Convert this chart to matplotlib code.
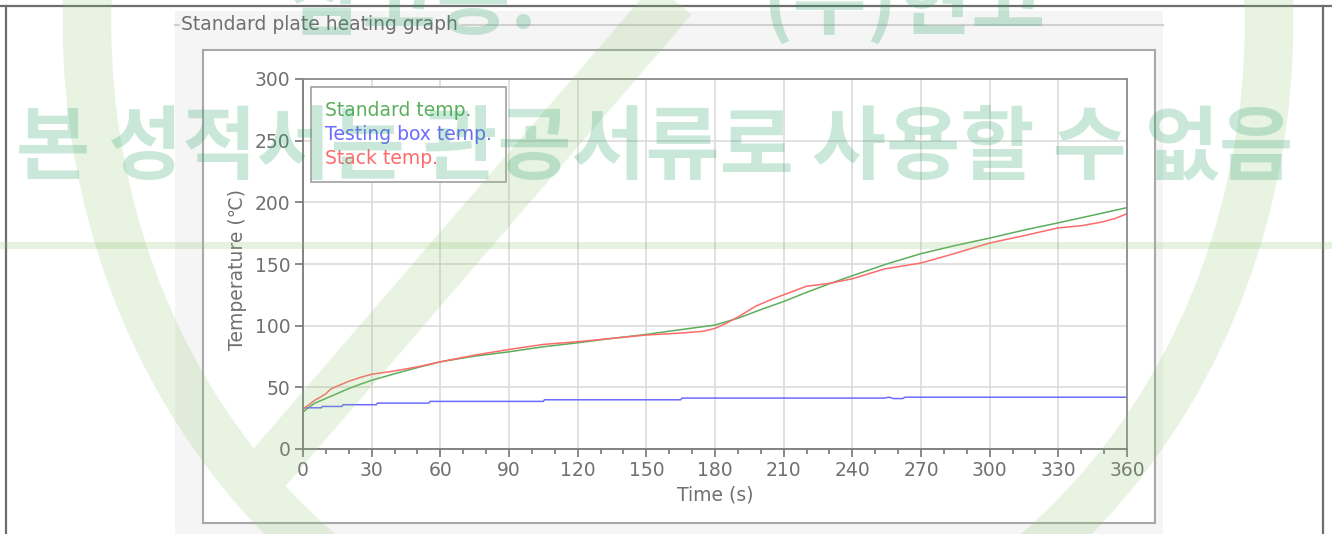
import matplotlib
matplotlib.use('Agg')
import matplotlib.pyplot as plt
from matplotlib.patches import Rectangle, PathPatch
from matplotlib.path import Path
from matplotlib.transforms import Affine2D

# --- data ---
t_std = [0, 2, 5, 10, 15, 20, 25, 30, 40, 50, 60, 75, 90, 105, 120, 135, 150, 160, 170, 180,
         190, 200, 210, 220, 230, 240, 255, 270, 285, 300, 315, 330, 345, 360]
std_temp = [30, 33, 37, 41, 45, 49, 52.5, 55.7, 61, 66, 70.7, 75.3, 78.8, 82.9, 86.1, 89.7, 92.9, 95.5, 98, 100.5,
            106, 113, 119.6, 127, 134, 140.5, 150, 158.4, 165, 171, 177.5, 183.4, 189.5, 195.7]

t_box = [0, 8, 8.5, 17, 17.5, 32, 32.5, 55, 55.5, 105, 105.5, 165, 165.5, 254, 256, 258, 262, 263, 360]
box_temp = [33.4, 33.4, 34.5, 34.5, 35.9, 35.9, 37.2, 37.2, 38.6, 38.6, 39.9, 39.9, 41.3, 41.3, 42, 40.9, 40.9, 42, 42]

t_stack = [0, 2, 5, 8, 10, 12, 15, 20, 25, 30, 40, 50, 60, 75, 90, 105, 120, 135, 150, 165, 175, 180,
           185, 190, 198, 205, 210, 220, 229, 240, 254, 270, 283, 300, 315, 330, 340, 349, 355, 360]
stack_temp = [32.6, 35, 39.4, 42.5, 44.8, 48.5, 51, 54.9, 58, 60.6, 63.3, 66.6, 70.7, 76.1, 80.7, 84.8, 87, 89.7, 92.4, 94, 95.5, 97.8,
              102, 107, 116, 121.5, 125, 132, 134, 138, 146, 150.8, 157.6, 167, 173, 179.3, 181, 184, 187, 190.8]

labels = ['Standard temp.', 'Testing box temp.', 'Stack temp.']
colors = ['#5cae5c', '#6b6bff', '#ff6b6b']

W, H = 1332, 534
fs = 13.5
fig = plt.figure(figsize=(W / 100, H / 100), dpi=100)

# background: page frame, grey group box, white plot panel
bg = fig.add_axes([0, 0, 1, 1], zorder=0)
bg.set_xlim(0, W)
bg.set_ylim(H, 0)
bg.axis('off')
bg.plot([0, W], [6, 6], color='#6e6e6e', lw=1.6)
bg.plot([6, 6], [6, H], color='#6e6e6e', lw=1.6)
bg.plot([1323, 1323], [6, H], color='#6e6e6e', lw=1.6)
bg.add_patch(Rectangle((175, 11), 988, 530, facecolor='#f5f5f5', edgecolor='none'))
bg.plot([175, 179], [25, 25], color='#d0d0d0', lw=1.5)
bg.plot([462, 1163], [25, 25], color='#d0d0d0', lw=1.5)
bg.text(181, 25, 'Standard plate heating graph', ha='left', va='center', fontsize=fs, color='#707070')
bg.add_patch(Rectangle((203, 50), 952, 473, facecolor='white', edgecolor='#a8a8a8', lw=1.5))

# main chart
ax = fig.add_axes([303 / W, 1 - 449 / H, 824 / W, 370 / H], zorder=1)
ax.plot(t_std, std_temp, color=colors[0], lw=1.1, label=labels[0])
ax.plot(t_box, box_temp, color=colors[1], lw=1.1, label=labels[1])
ax.plot(t_stack, stack_temp, color=colors[2], lw=1.1, label=labels[2])

ax.set_xlim(0, 360)
ax.set_ylim(0, 300)
ax.set_xticks(range(0, 361, 30))
ax.set_xticks(range(0, 361, 10), minor=True)
ax.set_yticks(range(0, 301, 50))
ax.grid(True, which='major', color='#dcdcdc', lw=1.2)
ax.set_axisbelow(True)
for s in ax.spines.values():
    s.set_color('#8c8c8c')
    s.set_linewidth(1.3)
ax.spines['left'].set_color('#7a7a7a')
ax.spines['bottom'].set_color('#7a7a7a')
ax.tick_params(which='major', direction='out', length=6, width=1.3, color='#808080',
               labelsize=fs, labelcolor='#707070', pad=3)
ax.tick_params(which='minor', direction='out', length=3.8, width=1.3, color='#808080')

ax.set_xlabel('Time (s)', fontsize=fs, color='#707070')
ax.xaxis.set_label_coords(0.5, -0.124)
ax.xaxis.label.set_va('center')
ax.set_ylabel('Temperature (℃)', fontsize=fs, color='#707070')
ax.yaxis.set_label_coords(-0.080, 0.486)
ax.yaxis.label.set_va('center')

leg = ax.legend(loc='upper left', bbox_to_anchor=(0.0097, 0.978), borderaxespad=0,
                handlelength=0, handletextpad=0, labelcolor='linecolor', fontsize=fs,
                frameon=True, fancybox=False, framealpha=1, edgecolor='#a0a0a0',
                borderpad=0.75, labelspacing=0.25)
leg.get_frame().set_linewidth(1.2)
for h in leg.legend_handles:
    h.set_visible(False)

# watermark overlay (ring + check stroke as one path so overlaps don't darken)
wm = fig.add_axes([0, 0, 1, 1], zorder=3)
wm.set_xlim(0, W)
wm.set_ylim(H, 0)
wm.axis('off')
wm_green = '#8cc46e'
ring = Path.unit_circle().transformed(Affine2D().scale(591, 666).translate(678, 23))
stroke = Path([(250, 490), (655, 20), (680, -10)])
wm.add_patch(PathPatch(Path.make_compound_path(ring, stroke), fill=False, lw=35,
                       edgecolor=wm_green, alpha=0.2, capstyle='butt'))
wm.plot([0, W], [244.5, 244.5], color=wm_green, alpha=0.22, lw=5)
kr = dict(family=['Noto Sans CJK KR', 'DejaVu Sans'], fontweight='bold', fontsize=58,
          color='#2aa56a', alpha=0.25)
wm.text(655, 172, '본 성적서는 관공서류로 사용할 수 없음', ha='center', va='baseline', **kr)
wm.text(537, 28, '참고용.', ha='right', va='baseline', **kr)
wm.text(762, 28, '(주)현고', ha='left', va='baseline', **kr)

fig.savefig('out.png', dpi=100)
